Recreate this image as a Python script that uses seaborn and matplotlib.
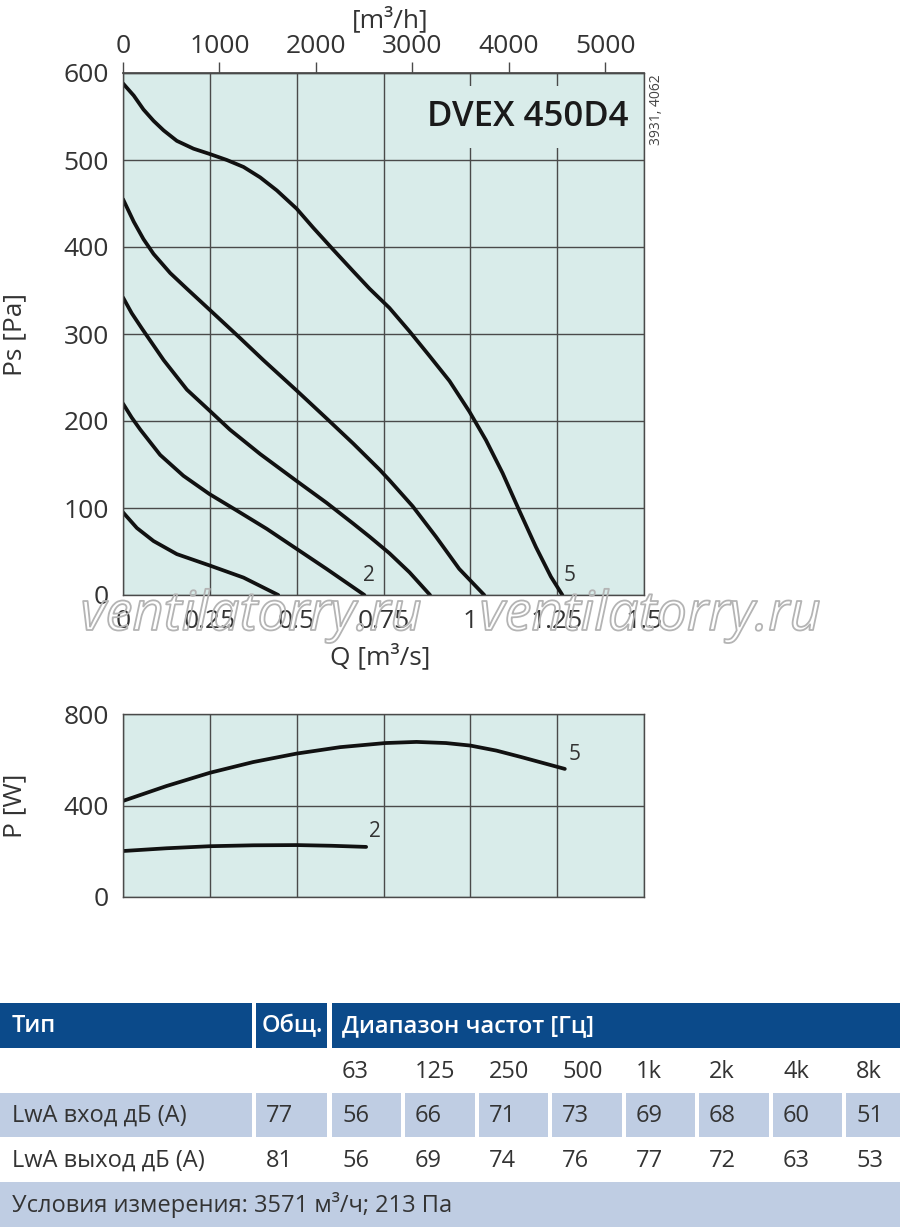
import matplotlib
matplotlib.use("Agg")
import matplotlib.patheffects as pe
import pandas as pd
import seaborn as sns
from matplotlib import pyplot as plt
from matplotlib.patches import Rectangle

# static pressure curves Ps [Pa] vs Q [m3/s]
q1 = [0, 0.02, 0.04, 0.088, 0.155, 0.249, 0.347, 0.447]
ps1 = [95, 86, 77, 62, 47, 34, 20, 0]
q2 = [0, 0.025, 0.05, 0.107, 0.174, 0.249, 0.328, 0.414, 0.5, 0.586, 0.695]
ps2 = [220, 204, 190, 161, 137, 116, 97, 76, 53, 30, 0]
q3 = [0, 0.025, 0.055, 0.117, 0.184, 0.249, 0.308, 0.395, 0.5, 0.586, 0.663,
      0.71, 0.767, 0.825, 0.884]
ps3 = [342, 324, 306, 270, 236, 212, 190, 162, 131, 106, 82, 67, 48, 26, 0]
q4 = [0, 0.031, 0.059, 0.088, 0.136, 0.184, 0.249, 0.33, 0.404, 0.5, 0.586,
      0.663, 0.739, 0.767, 0.834, 0.901, 0.968, 1.04]
ps4 = [455, 429, 409, 392, 370, 352, 328, 298, 270, 235, 203, 174, 144, 132,
       102, 67, 30, 0]
q5 = [0, 0.031, 0.059, 0.088, 0.117, 0.155, 0.203, 0.249, 0.299, 0.347, 0.395,
      0.443, 0.5, 0.548, 0.605, 0.663, 0.71, 0.767, 0.825, 0.882, 0.94, 0.997,
      1.045, 1.093, 1.141, 1.189, 1.232, 1.265]
ps5 = [588, 574, 558, 545, 534, 522, 513, 507, 500, 492, 480, 465, 444, 422,
       397, 372, 352, 330, 303, 275, 246, 211, 178, 140, 97, 55, 21, 0]

# power curves P [W]
pq2 = [0, 0.125, 0.25, 0.375, 0.5, 0.6, 0.70]
pw2 = [201, 213, 222, 226, 227, 224, 219]
pq5 = [0, 0.125, 0.25, 0.375, 0.5, 0.625, 0.755, 0.845, 0.93, 1.0, 1.075,
       1.146, 1.272]
pw5 = [420, 485, 543, 590, 627, 655, 673, 678, 673, 662, 640, 612, 560]

q_ticks = [0, 0.25, 0.5, 0.75, 1, 1.25, 1.5]
q_labels = ["0", "0.25", "0.5", "0.75", "1", "1.25", "1.5"]
m3h_ticks = [0, 1000, 2000, 3000, 4000, 5000]

# sound table
bands = ["63", "125", "250", "500", "1k", "2k", "4k", "8k"]
row_names = ["LwA вход дБ (А)", "LwA выход дБ (А)"]
total_in, total_out = 77, 81
lwa_in = [56, 66, 71, 73, 69, 68, 60, 51]
lwa_out = [56, 69, 74, 76, 77, 72, 63, 53]
conditions = "Условия измерения: 3571 м³/ч; 213 Па"

FACE = "#d9ecea"
GRID = "#4a4a4a"
TXT = "#333333"
DARK_BLUE = "#0b4a8a"
LIGHT_BLUE = "#bfcde3"

sns.set_theme(style="white")
plt.rcParams["font.family"] = ["Open Sans", "DejaVu Sans"]


def curves_frame(pairs):
    parts = []
    for name, (xs, ys) in pairs.items():
        parts.append(pd.DataFrame({"q": xs, "v": ys, "curve": name}))
    return pd.concat(parts, ignore_index=True)


def style_axes(ax):
    ax.set_facecolor(FACE)
    ax.set_axisbelow(True)
    ax.grid(True, color=GRID, lw=1.0)
    for s in ax.spines.values():
        s.set_color(GRID)
        s.set_linewidth(1.0)
    ax.tick_params(direction="out", length=8, width=1, color=GRID,
                   labelsize=19, labelcolor=TXT, pad=2)


fig = plt.figure(figsize=(9, 12.3), dpi=100)

# ---- pressure chart
ax1 = fig.add_axes([123 / 900, 1 - 595 / 1230, 521 / 900, 522 / 1230])
style_axes(ax1)
ps_df = curves_frame({"1": (q1, ps1), "2": (q2, ps2), "3": (q3, ps3),
                      "4": (q4, ps4), "5": (q5, ps5)})
sns.lineplot(data=ps_df, x="q", y="v", units="curve", estimator=None,
             sort=False, color="#111111", lw=2.7, ax=ax1, legend=False)
for line in ax1.lines:
    line.set_solid_joinstyle("round")
ax1.set_xlim(0, 1.5)
ax1.set_ylim(0, 600)
ax1.set_xticks(q_ticks)
ax1.set_xticklabels(q_labels)
ax1.set_yticks(range(0, 700, 100))
ax1.set_xlabel("Q [m³/s]", fontsize=19, color=TXT)
ax1.xaxis.set_label_coords(0.493, -0.119)
ax1.xaxis.label.set_va("center")
ax1.set_ylabel("Ps [Pa]", fontsize=19, color=TXT)
ax1.yaxis.set_label_coords(-0.207, 0.5)
ax1.yaxis.label.set_va("center")
ax1.text(0.708, 22, "2", fontsize=15, color=TXT, ha="center", va="center")
ax1.text(1.287, 22, "5", fontsize=15, color=TXT, ha="center", va="center")
ax1.text(1.455, 549, "DVEX 450D4", fontsize=25, weight="semibold",
         color="#1a1a1a", ha="right", va="center",
         bbox=dict(fc=FACE, ec="none", pad=10))

sec = ax1.secondary_xaxis("top", functions=(lambda q: q * 3600,
                                            lambda h: h / 3600))
sec.set_xticks(m3h_ticks)
sec.tick_params(direction="out", length=8, width=1, color=GRID,
                labelsize=19, labelcolor=TXT, pad=2)
sec.spines["top"].set_color(GRID)
ax1.text(0.512, 1.101, "[m³/h]", transform=ax1.transAxes, fontsize=19,
         color=TXT, ha="center", va="center")
fig.text(656 / 900, 1 - 110 / 1230, "3931, 4062", rotation=90, fontsize=10,
         color="#444444", ha="center", va="center")

# ---- power chart
ax2 = fig.add_axes([123 / 900, 1 - 897 / 1230, 521 / 900, 183 / 1230])
style_axes(ax2)
p_df = curves_frame({"2": (pq2, pw2), "5": (pq5, pw5)})
sns.lineplot(data=p_df, x="q", y="v", units="curve", estimator=None,
             sort=False, color="#111111", lw=2.7, ax=ax2, legend=False)
for line in ax2.lines:
    line.set_solid_joinstyle("round")
ax2.set_xlim(0, 1.5)
ax2.set_ylim(0, 800)
ax2.set_xticks(q_ticks)
ax2.set_xticklabels([])
ax2.set_yticks([0, 400, 800])
ax2.set_xlabel("")
ax2.set_ylabel("P [W]", fontsize=19, color=TXT)
ax2.yaxis.set_label_coords(-0.207, 0.5)
ax2.yaxis.label.set_va("center")
ax2.text(0.726, 285, "2", fontsize=15, color=TXT, ha="center", va="center")
ax2.text(1.30, 625, "5", fontsize=15, color=TXT, ha="center", va="center")

# ---- watermark (outline only, tick labels stay visible)
for xc in (251, 650):
    fig.text(xc / 900, 1 - 630 / 1230, "ventilatorry.ru", fontsize=39,
             style="italic", color=(1, 1, 1, 0.0),
             ha="center", va="baseline", zorder=10,
             path_effects=[pe.withStroke(linewidth=1.3, foreground="#b4b4b4")])

# ---- sound table
tax = fig.add_axes([0, 0, 1, 1])
tax.set_xlim(0, 900)
tax.set_ylim(1230, 0)
tax.axis("off")

col_left = [0, 256, 332, 405, 479, 552, 626, 699, 773, 846]
col_right = [252, 327, 401, 475, 548, 622, 695, 769, 842, 900]

for x0, x1 in [(0, 252), (256, 327), (332, 900)]:
    tax.add_patch(Rectangle((x0, 1003), x1 - x0, 45, fc=DARK_BLUE, ec="none"))
for x0, x1 in zip(col_left, col_right):
    tax.add_patch(Rectangle((x0, 1093), x1 - x0, 44, fc=LIGHT_BLUE, ec="none"))
tax.add_patch(Rectangle((0, 1182), 900, 45, fc=LIGHT_BLUE, ec="none"))

hdr = dict(fontsize=17, color="white", weight="semibold", va="center")
tax.text(12, 1026, "Тип", **hdr)
tax.text(262, 1026, "Общ.", **hdr)
tax.text(342, 1026, "Диапазон частот [Гц]", **hdr)

cell = dict(fontsize=17, color=TXT, va="center")
for x0, b in zip(col_left[2:], bands):
    tax.text(x0 + 10, 1072, b, **cell)
for yc, name, tot, vals in [(1116, row_names[0], total_in, lwa_in),
                            (1161, row_names[1], total_out, lwa_out)]:
    tax.text(12, yc, name, **cell)
    tax.text(col_left[1] + 10, yc, str(tot), **cell)
    for x0, v in zip(col_left[2:], vals):
        tax.text(x0 + 10, yc, str(v), **cell)
tax.text(12, 1205, conditions, **cell)

fig.savefig("out.png", dpi=100)
